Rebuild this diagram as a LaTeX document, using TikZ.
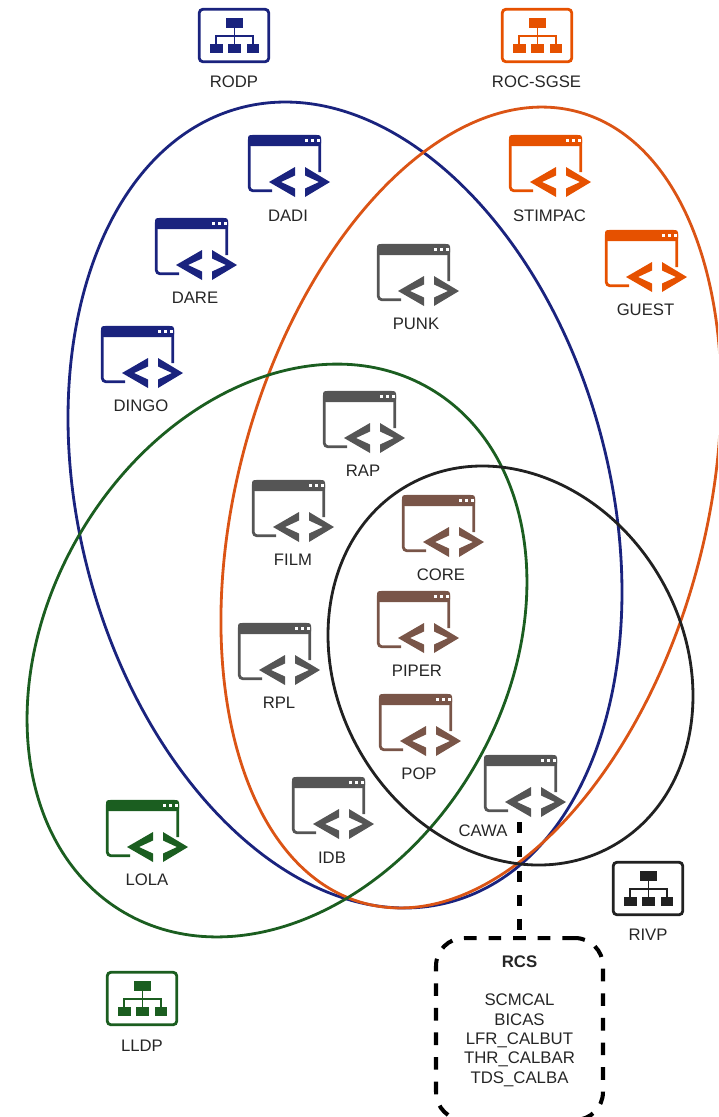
\documentclass[tikz,border=0pt]{standalone}
\usepackage{fontspec}
\setmainfont{Liberation Sans}
\definecolor{rodpblue}{HTML}{1A237E}
\definecolor{rocorange}{HTML}{E65100}
\definecolor{rocline}{HTML}{DB5415}
\definecolor{lldpgreen}{HTML}{1B5E20}
\definecolor{rivpblack}{HTML}{212121}
\definecolor{sharedgray}{HTML}{555555}
\definecolor{corebrown}{HTML}{795548}
\tikzset{
         venn/.style={line width=1.6pt},
         lbl/.style={font=\fontsize{9.5}{11}\selectfont,text=black!85,inner sep=0pt},
         rcsbox/.style={draw=black,line width=2.3pt,dash pattern=on 7.2pt off 6.8pt,rounded corners=.56cm,
                        minimum width=3.34cm,minimum height=3.64cm,align=center,inner sep=0pt,
                        font=\fontsize{9.55}{11}\selectfont,text=black!85},
         rcslink/.style={line width=2.5pt,dash pattern=on 6.3pt off 7.5pt},
         pics/swicon/.style={code={
             \draw[line width=1.6pt,rounded corners=2pt](24,55.7)--(1.3,55.7)--(1.3,1.3)--(71.7,1.3)--(71.7,37);
             \fill[rounded corners=1.5pt](0,0)rectangle(73,11);
             \foreach \d in {57,63,69}
             {
             \fill[white](\d,3.7)rectangle(\d+3,6.7);
             }
             \fill(21,47)--(47,32)--(47,40.5)--(33,47)--(47,53.5)--(47,62)--cycle;
             \fill(82,47)--(57,32)--(57,40.5)--(71,47)--(57,53.5)--(57,62)--cycle;
         }},
         pics/neticon/.style={code={
             \draw[line width=1.6pt,rounded corners=2pt](1.3,1.3)rectangle(70.7,53.7);
             \fill(28,10)rectangle(45,20);
             \fill(12,36)rectangle(24.5,45);
             \fill(30,36)rectangle(43,45);
             \fill(48.5,36)rectangle(61,45);
             \draw[line width=1pt](36.5,20)--(36.5,36);
             \draw[line width=1pt](18,36)--(18,28)--(55,28)--(55,36);
         }}
        }
\begin{document}
\begin{tikzpicture}[x=.02cm,y=-.02cm]
\useasboundingbox(0,0)rectangle(718,1117);
\clip(0,0)rectangle(718,1117);
%instrument ellipses
\draw[venn,rodpblue](345,505) ellipse[x radius=8.216cm,y radius=5.306cm,rotate=-75.3];
\draw[venn,rocline](471,507.5) ellipse[x radius=8.199cm,y radius=4.684cm,rotate=74.9];
\draw[venn,lldpgreen](277,650.5) ellipse[x radius=6.068cm,y radius=4.582cm,rotate=59.8];
\draw[venn,rivpblack](510.5,665.5) ellipse[x radius=4.148cm,y radius=3.47cm,rotate=-60.1];
%data pipelines
\pic[rodpblue]at(198,8){neticon};
\node[lbl](rodp)at(234,82){RODP};
\pic[rocorange]at(501,8){neticon};
\node[lbl](rocsgse)at(536.5,82){ROC-SGSE};
\pic[rivpblack]at(612,861){neticon};
\node[lbl](rivp)at(648,935){RIVP};
\pic[lldpgreen]at(106,971){neticon};
\node[lbl](lldp)at(142,1046){LLDP};
%blue software
\pic[rodpblue]at(248,135){swicon};
\node[lbl](dadi)at(288,216){DADI};
\pic[rodpblue]at(155,218){swicon};
\node[lbl](dare)at(195,298){DARE};
\pic[rodpblue]at(101,326){swicon};
\node[lbl](dingo)at(141,406){DINGO};
%orange software
\pic[rocorange]at(509,135){swicon};
\node[lbl](stimpac)at(549.5,216){STIMPAC};
\pic[rocorange]at(605,230){swicon};
\node[lbl](guest)at(645.5,310){GUEST};
%shared software
\pic[sharedgray]at(377,244){swicon};
\node[lbl](punk)at(416,324){PUNK};
\pic[sharedgray]at(323,391){swicon};
\node[lbl](rap)at(363,471){RAP};
\pic[sharedgray]at(252,480){swicon};
\node[lbl](film)at(293,560){FILM};
\pic[sharedgray]at(238,623){swicon};
\node[lbl](rpl)at(279,703){RPL};
\pic[sharedgray]at(292,777){swicon};
\node[lbl](idb)at(332,858){IDB};
\pic[sharedgray]at(484,755){swicon};
\node[lbl](cawa)at(483,831){CAWA};
%core software
\pic[corebrown]at(402,495){swicon};
\node[lbl](core)at(441,575){CORE};
\pic[corebrown]at(377,591){swicon};
\node[lbl](piper)at(417,671){PIPER};
\pic[corebrown]at(379,694){swicon};
\node[lbl](pop)at(419,774){POP};
%green software
\pic[lldpgreen]at(106,800){swicon};
\node[lbl](lola)at(147,880){LOLA};
%calibration software
\node[rcsbox](rcs)at(519.5,1029){\textbf{RCS}\\[11pt]SCMCAL\\BICAS\\LFR\_CALBUT\\THR\_CALBAR\\TDS\_CALBA\\~};
\coordinate(cawalink)at(519.5,822);
\draw[rcslink](cawalink)--(rcs.north);
\end{tikzpicture}
\end{document}
